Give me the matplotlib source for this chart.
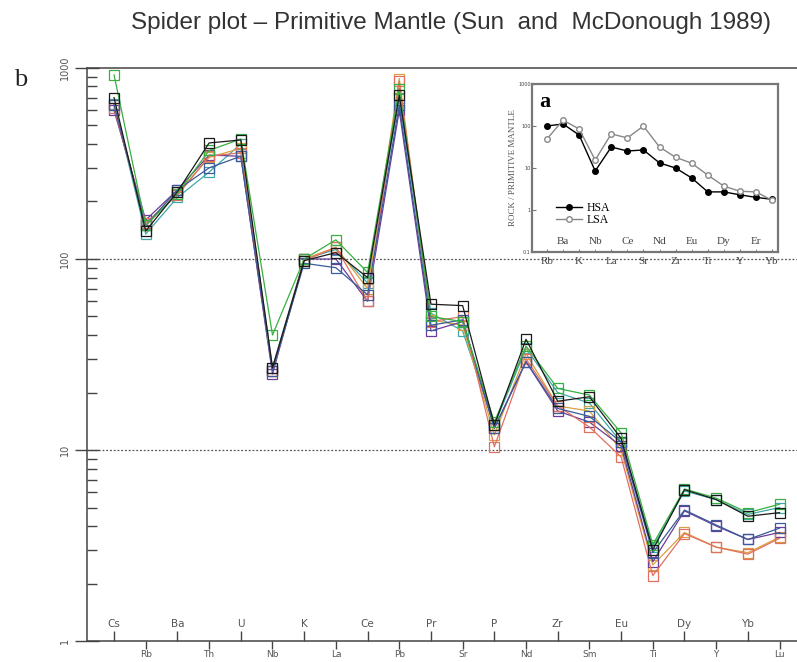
import numpy as np
import matplotlib
matplotlib.use('Agg')
import matplotlib.pyplot as plt
from matplotlib.ticker import FixedLocator, FixedFormatter, LogLocator, NullFormatter

# Main spider diagram (panel b)
elements = ['Cs', 'Rb', 'Ba', 'Th', 'U', 'Nb', 'K', 'La', 'Ce', 'Pb', 'Pr',
            'Sr', 'P', 'Nd', 'Zr', 'Sm', 'Eu', 'Ti', 'Dy', 'Y', 'Yb', 'Lu']

green = [920, 150, 220, 370, 425, 40, 100, 126, 85, 780, 50, 47, 14.0, 35, 21, 19.4, 12.3, 3.2, 6.25, 5.6, 4.7, 5.2]
black = [700, 140, 225, 405, 420, 27, 98, 108, 80, 720, 58, 57, 13.5, 38, 18, 19, 11.5, 3.0, 6.2, 5.5, 4.5, 4.7]
blue = [640, 150, 230, 300, 345, 26, 95, 90, 65, 640, 45, 48, 13.0, 29, 16.5, 15, 11.0, 2.9, 4.85, 4.05, 3.4, 3.9]
red = [620, 155, 215, 345, 360, 26, 98, 115, 60, 850, 47, 50, 10.4, 30, 17, 13.2, 9.2, 2.2, 3.65, 3.1, 2.85, 3.45]
purple = [600, 160, 230, 350, 345, 25, 100, 100, 60, 600, 42, 47, 13.0, 29, 16, 14, 10.5, 2.6, 4.8, 4.0, 3.4, 3.7]
teal = [650, 135, 210, 285, 400, 27, 100, 112, 75, 700, 52, 42, 13.5, 34, 20, 17.6, 11, 3.1, 6.1, 5.5, 4.6, 5.0]
orange = [640, 150, 220, 340, 380, 26, 100, 115, 70, 880, 48, 45, 12, 32, 17, 16, 10, 2.5, 3.7, 3.1, 2.9, 3.5]

# Inset (panel a)
inset_elements = ['Rb', 'Ba', 'K', 'Nb', 'La', 'Ce', 'Sr', 'Nd', 'Zr', 'Eu',
                  'Ti', 'Dy', 'Y', 'Er', 'Yb']
hsa = [100, 112, 61, 8.5, 31.6, 25.4, 26.9, 13.2, 10, 5.8, 2.7, 2.7, 2.3, 2.0, 1.8]
lsa = [49, 138, 85, 15.5, 65, 52, 100, 31.6, 18, 13, 6.8, 3.7, 2.8, 2.7, 1.7]

series = [
    (teal, '#40a8a8'),
    (orange, '#d8a040'),
    (purple, '#6a3d9a'),
    (red, '#e27060'),
    (blue, '#3a5a9a'),
    (green, '#38b040'),
    (black, '#1a1a1a'),
]

fig = plt.figure(figsize=(7.97, 6.62), dpi=100)
ax = fig.add_axes([0.1092, 0.0317, 0.8908, 0.8656])

x = np.arange(len(elements))
for vals, col in series:
    ax.plot(x, vals, color=col, lw=0.9, marker='s', ms=7.5,
            mfc='none', mec=col, mew=0.9)

ax.set_yscale('log')
ax.set_ylim(1, 1000)
ax.set_xlim(-0.852, 21.55)

for v in (10, 100):
    ax.axhline(v, color='#555555', lw=0.9, ls=(0, (1.5, 1.5)), zorder=0)

ax.spines['right'].set_visible(False)
for side in ('left', 'bottom', 'top'):
    ax.spines[side].set_color('#444444')
    ax.spines[side].set_linewidth(1.1)

# y axis
ax.yaxis.set_major_locator(FixedLocator([1, 10, 100, 1000]))
ax.yaxis.set_major_formatter(FixedFormatter(['1', '10', '100', '1000']))
ax.yaxis.set_minor_locator(LogLocator(base=10, subs=np.arange(2, 10)))
ax.yaxis.set_minor_formatter(NullFormatter())
ax.tick_params(axis='y', which='major', direction='inout', length=17,
               width=1.0, color='#444444', labelsize=7, labelcolor='#555555',
               pad=4, labelrotation=90)
ax.tick_params(axis='y', which='minor', direction='in', length=7,
               width=1.0, color='#444444')
for lab in ax.get_yticklabels():
    lab.set_va('center')

# x axis: alternating labels below and above the axis
lower = [i for i in range(len(elements)) if i % 2 == 1]
upper = [i for i in range(len(elements)) if i % 2 == 0]
ax.xaxis.set_major_locator(FixedLocator(lower))
ax.xaxis.set_major_formatter(FixedFormatter([elements[i] for i in lower]))
ax.xaxis.set_minor_locator(FixedLocator(upper))
ax.xaxis.set_minor_formatter(FixedFormatter([elements[i] for i in upper]))
ax.tick_params(axis='x', which='major', direction='out', length=6,
               width=1.0, color='#444444', labelsize=6.5,
               labelcolor='#555555', pad=0.5)
ax.tick_params(axis='x', which='minor', direction='in', length=7,
               width=1.0, color='#444444', labelsize=7.5,
               labelcolor='#555555', pad=-15.5)
ax.tick_params(axis='x', which='both', top=False)

fig.text(0.566, 0.966, 'Spider plot \u2013 Primitive Mantle (Sun  and  McDonough 1989)',
         ha='center', va='center', fontsize=17.5, color='#333333',
         family='Liberation Sans')
fig.text(0.018, 0.879, 'b', ha='left', va='center', fontsize=19,
         family='Liberation Serif', color='#222222')

# inset
axi = fig.add_axes([0.6675, 0.6193, 0.3087, 0.2538])
xi = np.arange(len(inset_elements))
axi.plot(xi, hsa, color='black', lw=1.0, marker='o', ms=4,
         mfc='black', mec='black', label='HSA')
axi.plot(xi, lsa, color='#888888', lw=1.0, marker='o', ms=4,
         mfc='white', mec='#888888', label='LSA')
axi.set_yscale('log')
axi.set_ylim(0.1, 1000)
axi.set_xlim(-0.93, 14.37)
for s in axi.spines.values():
    s.set_color('#777777')
    s.set_linewidth(1.6)
axi.yaxis.set_major_locator(FixedLocator([0.1, 1, 10, 100, 1000]))
axi.yaxis.set_major_formatter(FixedFormatter(['0.1', '1', '10', '100', '1000']))
axi.yaxis.set_minor_locator(FixedLocator([]))
axi.tick_params(axis='y', direction='in', length=3, labelsize=3.5,
                pad=1, color='#777777', labelcolor='#444444')
axi.set_ylabel('ROCK / PRIMITIVE MANTLE', fontsize=6.5, family='Liberation Serif',
               color='#555555', labelpad=1)

i_lower = [i for i in range(len(inset_elements)) if i % 2 == 0]
i_upper = [i for i in range(len(inset_elements)) if i % 2 == 1]
axi.xaxis.set_major_locator(FixedLocator(i_lower))
axi.xaxis.set_major_formatter(FixedFormatter([inset_elements[i] for i in i_lower]))
axi.xaxis.set_minor_locator(FixedLocator(i_upper))
axi.xaxis.set_minor_formatter(FixedFormatter([inset_elements[i] for i in i_upper]))
axi.tick_params(axis='x', which='both', direction='in', length=2.5,
                color='#777777', labelsize=8, labelcolor='#444444')
axi.tick_params(axis='x', which='major', pad=3.5)
axi.tick_params(axis='x', which='minor', pad=-11)
for lab in axi.get_xticklabels(which='both'):
    lab.set_family('Liberation Serif')

axi.text(0.03, 0.95, 'a', transform=axi.transAxes, ha='left', va='top',
         fontsize=16, fontweight='bold', family='Liberation Serif')
axi.legend(loc='lower left', bbox_to_anchor=(0.07, 0.11), frameon=False,
           handlelength=2.2, handletextpad=0.4,
           labelspacing=0.0, borderpad=0.1,
           prop={'family': 'Liberation Serif', 'size': 8.5})

fig.savefig('out.png', dpi=100)
